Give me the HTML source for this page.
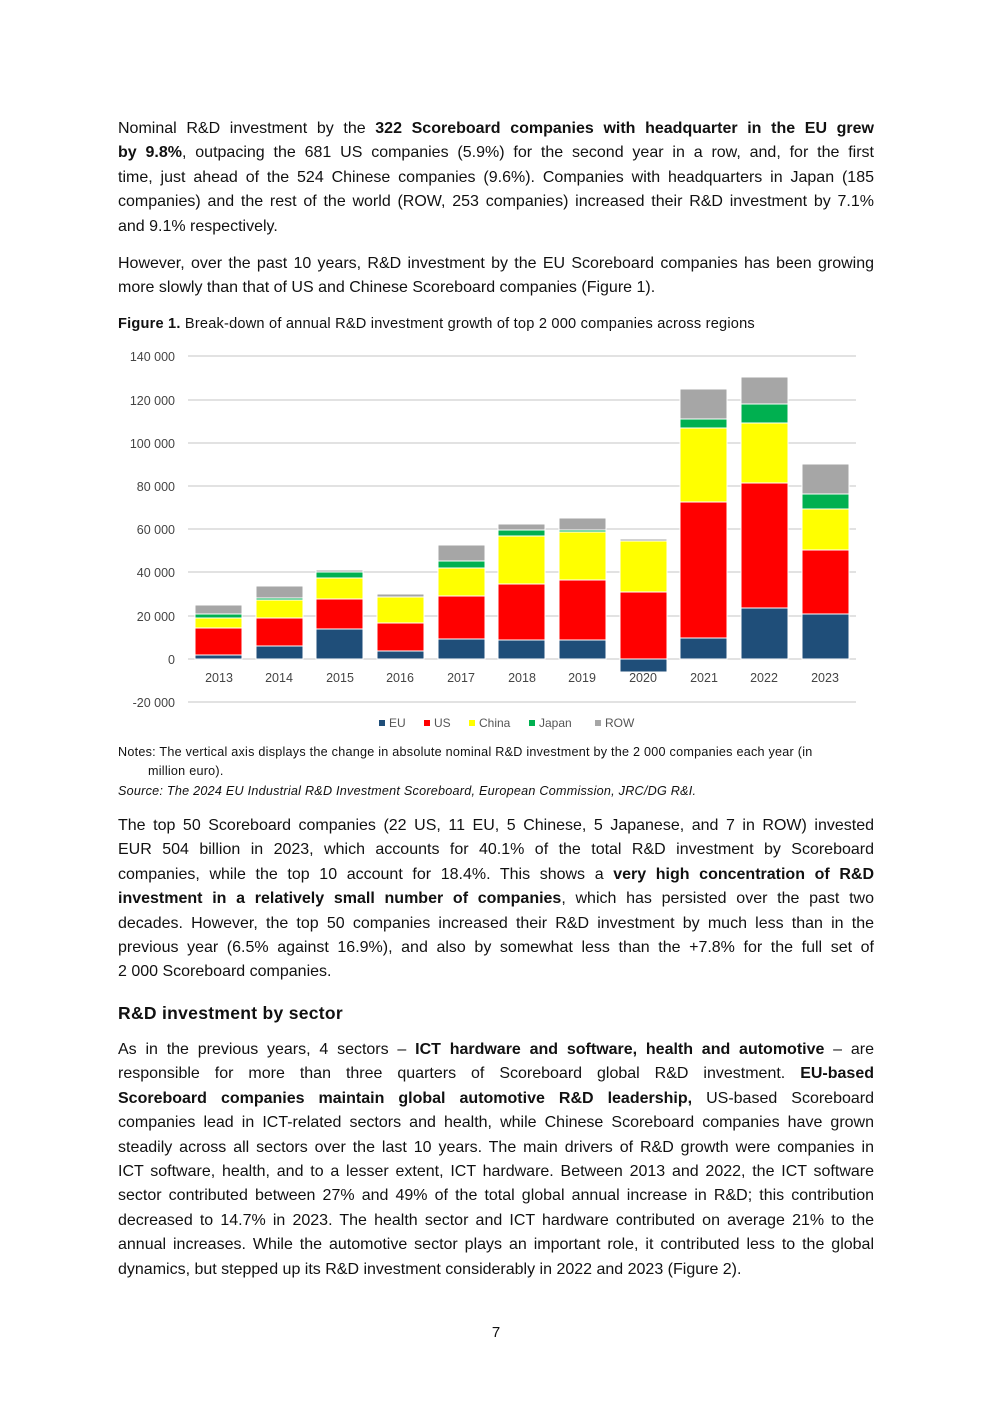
<!DOCTYPE html>
<html><head><meta charset="utf-8"><style>
body{margin:0;background:#fff;}
.pg{position:relative;width:992px;height:1403px;font-family:"Liberation Sans",sans-serif;color:#111;}
.p{position:absolute;left:118px;width:756px;font-size:16px;line-height:24.4px;}
.p span{display:block;white-space:nowrap;text-align:justify;text-align-last:justify;}
.p span.l{text-align-last:left;}
.p b{font-weight:bold;}
.small{position:absolute;left:118px;font-size:12.6px;line-height:19px;color:#111;letter-spacing:0.25px;white-space:nowrap;}
svg text{font-family:"Liberation Sans",sans-serif;}
</style></head><body><div class="pg">
<div class="p" style="top:117px">
<span>Nominal R&amp;D investment by the <b>322 Scoreboard companies with headquarter in the EU grew</b></span>
<span><b>by 9.8%</b>, outpacing the 681 US companies (5.9%) for the second year in a row, and, for the first</span>
<span>time, just ahead of the 524 Chinese companies (9.6%). Companies with headquarters in Japan (185</span>
<span>companies) and the rest of the world (ROW, 253 companies) increased their R&amp;D investment by 7.1%</span>
<span class="l">and 9.1% respectively.</span></div>
<div class="p" style="top:252px">
<span>However, over the past 10 years, R&amp;D investment by the EU Scoreboard companies has been growing</span>
<span class="l">more slowly than that of US and Chinese Scoreboard companies (Figure 1).</span></div>
<div class="small" style="top:315px;font-size:14.6px;letter-spacing:0.2px"><b>Figure 1.</b> Break-down of annual R&amp;D investment growth of top 2 000 companies across regions</div>
<svg style="position:absolute;left:0;top:0" width="992" height="740">
<g stroke="#d9d9d9" stroke-width="1.5">
<line x1="188" x2="856" y1="356" y2="356"/><line x1="188" x2="856" y1="400" y2="400"/><line x1="188" x2="856" y1="443" y2="443"/><line x1="188" x2="856" y1="486" y2="486"/><line x1="188" x2="856" y1="529" y2="529"/><line x1="188" x2="856" y1="572" y2="572"/><line x1="188" x2="856" y1="616" y2="616"/><line x1="188" x2="856" y1="659" y2="659"/><line x1="188" x2="856" y1="702" y2="702"/>
</g>
<g font-size="12.5" fill="#444" text-anchor="end">
<text x="175" y="361">140 000</text><text x="175" y="405">120 000</text><text x="175" y="448">100 000</text><text x="175" y="491">80 000</text><text x="175" y="534">60 000</text><text x="175" y="577">40 000</text><text x="175" y="621">20 000</text><text x="175" y="664">0</text><text x="175" y="707">-20 000</text>
</g>
<g stroke="#fff" stroke-width="1">
<rect x="195" y="605" width="47" height="9" fill="#a6a6a6"/><rect x="195" y="614" width="47" height="4" fill="#00b050"/><rect x="195" y="618" width="47" height="10" fill="#ffff00"/><rect x="195" y="628" width="47" height="27" fill="#ff0000"/><rect x="195" y="655" width="47" height="4" fill="#1f4e79"/>
<rect x="256" y="586" width="47" height="12" fill="#a6a6a6"/><rect x="256" y="598" width="47" height="2" fill="#00b050"/><rect x="256" y="600" width="47" height="18" fill="#ffff00"/><rect x="256" y="618" width="47" height="28" fill="#ff0000"/><rect x="256" y="646" width="47" height="13" fill="#1f4e79"/>
<rect x="316" y="570" width="47" height="2" fill="#a6a6a6"/><rect x="316" y="572" width="47" height="6" fill="#00b050"/><rect x="316" y="578" width="47" height="21" fill="#ffff00"/><rect x="316" y="599" width="47" height="30" fill="#ff0000"/><rect x="316" y="629" width="47" height="30" fill="#1f4e79"/>
<rect x="377" y="594" width="47" height="3" fill="#a6a6a6"/><rect x="377" y="597" width="47" height="26" fill="#ffff00"/><rect x="377" y="623" width="47" height="28" fill="#ff0000"/><rect x="377" y="651" width="47" height="8" fill="#1f4e79"/>
<rect x="438" y="545" width="47" height="16" fill="#a6a6a6"/><rect x="438" y="561" width="47" height="7" fill="#00b050"/><rect x="438" y="568" width="47" height="28" fill="#ffff00"/><rect x="438" y="596" width="47" height="43" fill="#ff0000"/><rect x="438" y="639" width="47" height="20" fill="#1f4e79"/>
<rect x="498" y="524" width="47" height="6" fill="#a6a6a6"/><rect x="498" y="530" width="47" height="6" fill="#00b050"/><rect x="498" y="536" width="47" height="48" fill="#ffff00"/><rect x="498" y="584" width="47" height="56" fill="#ff0000"/><rect x="498" y="640" width="47" height="19" fill="#1f4e79"/>
<rect x="559" y="518" width="47" height="12" fill="#a6a6a6"/><rect x="559" y="530" width="47" height="2" fill="#00b050"/><rect x="559" y="532" width="47" height="48" fill="#ffff00"/><rect x="559" y="580" width="47" height="60" fill="#ff0000"/><rect x="559" y="640" width="47" height="19" fill="#1f4e79"/>
<rect x="620" y="539" width="47" height="2" fill="#a6a6a6"/><rect x="620" y="541" width="47" height="51" fill="#ffff00"/><rect x="620" y="592" width="47" height="67" fill="#ff0000"/><rect x="620" y="659" width="47" height="13" fill="#1f4e79"/>
<rect x="680" y="389" width="47" height="30" fill="#a6a6a6"/><rect x="680" y="419" width="47" height="9" fill="#00b050"/><rect x="680" y="428" width="47" height="74" fill="#ffff00"/><rect x="680" y="502" width="47" height="136" fill="#ff0000"/><rect x="680" y="638" width="47" height="21" fill="#1f4e79"/>
<rect x="741" y="377" width="47" height="27" fill="#a6a6a6"/><rect x="741" y="404" width="47" height="19" fill="#00b050"/><rect x="741" y="423" width="47" height="60" fill="#ffff00"/><rect x="741" y="483" width="47" height="125" fill="#ff0000"/><rect x="741" y="608" width="47" height="51" fill="#1f4e79"/>
<rect x="802" y="464" width="47" height="30" fill="#a6a6a6"/><rect x="802" y="494" width="47" height="15" fill="#00b050"/><rect x="802" y="509" width="47" height="41" fill="#ffff00"/><rect x="802" y="550" width="47" height="64" fill="#ff0000"/><rect x="802" y="614" width="47" height="45" fill="#1f4e79"/>
</g>
<g font-size="12.5" fill="#444" text-anchor="middle">
<text x="219" y="682">2013</text><text x="279" y="682">2014</text><text x="340" y="682">2015</text><text x="400" y="682">2016</text><text x="461" y="682">2017</text><text x="522" y="682">2018</text><text x="582" y="682">2019</text><text x="643" y="682">2020</text><text x="704" y="682">2021</text><text x="764" y="682">2022</text><text x="825" y="682">2023</text>
</g>
<g font-size="12" fill="#555">
<rect x="379" y="720" width="6" height="6" fill="#1f4e79"/><text x="389" y="727">EU</text>
<rect x="424" y="720" width="6" height="6" fill="#ff0000"/><text x="434" y="727">US</text>
<rect x="469" y="720" width="6" height="6" fill="#ffff00"/><text x="479" y="727">China</text>
<rect x="529" y="720" width="6" height="6" fill="#00b050"/><text x="539" y="727">Japan</text>
<rect x="595" y="720" width="6" height="6" fill="#a6a6a6"/><text x="605" y="727">ROW</text>
</g>
</svg>
<div class="small" style="top:743px">Notes: The vertical axis displays the change in absolute nominal R&amp;D investment by the 2 000 companies each year (in<br><span style="padding-left:30px">million euro).</span></div>
<div class="small" style="top:782px"><i>Source: The 2024 EU Industrial R&amp;D Investment Scoreboard, European Commission, JRC/DG R&amp;I.</i></div>
<div class="p" style="top:814px">
<span>The top 50 Scoreboard companies (22 US, 11 EU, 5 Chinese, 5 Japanese, and 7 in ROW) invested</span>
<span>EUR 504 billion in 2023, which accounts for 40.1% of the total R&amp;D investment by Scoreboard</span>
<span>companies, while the top 10 account for 18.4%. This shows a <b>very high concentration of R&amp;D</b></span>
<span><b>investment in a relatively small number of companies</b>, which has persisted over the past two</span>
<span>decades. However, the top 50 companies increased their R&amp;D investment by much less than in the</span>
<span>previous year (6.5% against 16.9%), and also by somewhat less than the +7.8% for the full set of</span>
<span class="l">2 000 Scoreboard companies.</span></div>
<div class="p" style="top:1001px;font-size:17.5px;font-weight:bold;letter-spacing:0.3px">R&amp;D investment by sector</div>
<div class="p" style="top:1038px">
<span>As in the previous years, 4 sectors – <b>ICT hardware and software, health and automotive</b> – are</span>
<span>responsible for more than three quarters of Scoreboard global R&amp;D investment. <b>EU-based</b></span>
<span><b>Scoreboard companies maintain global automotive R&amp;D leadership,</b> US-based Scoreboard</span>
<span>companies lead in ICT-related sectors and health, while Chinese Scoreboard companies have grown</span>
<span>steadily across all sectors over the last 10 years. The main drivers of R&amp;D growth were companies in</span>
<span>ICT software, health, and to a lesser extent, ICT hardware. Between 2013 and 2022, the ICT software</span>
<span>sector contributed between 27% and 49% of the total global annual increase in R&amp;D; this contribution</span>
<span>decreased to 14.7% in 2023. The health sector and ICT hardware contributed on average 21% to the</span>
<span>annual increases. While the automotive sector plays an important role, it contributed less to the global</span>
<span class="l">dynamics, but stepped up its R&amp;D investment considerably in 2022 and 2023 (Figure 2).</span></div>
<div style="position:absolute;top:1324px;left:0;width:992px;text-align:center;font-size:15px">7</div>
</div></body></html>
